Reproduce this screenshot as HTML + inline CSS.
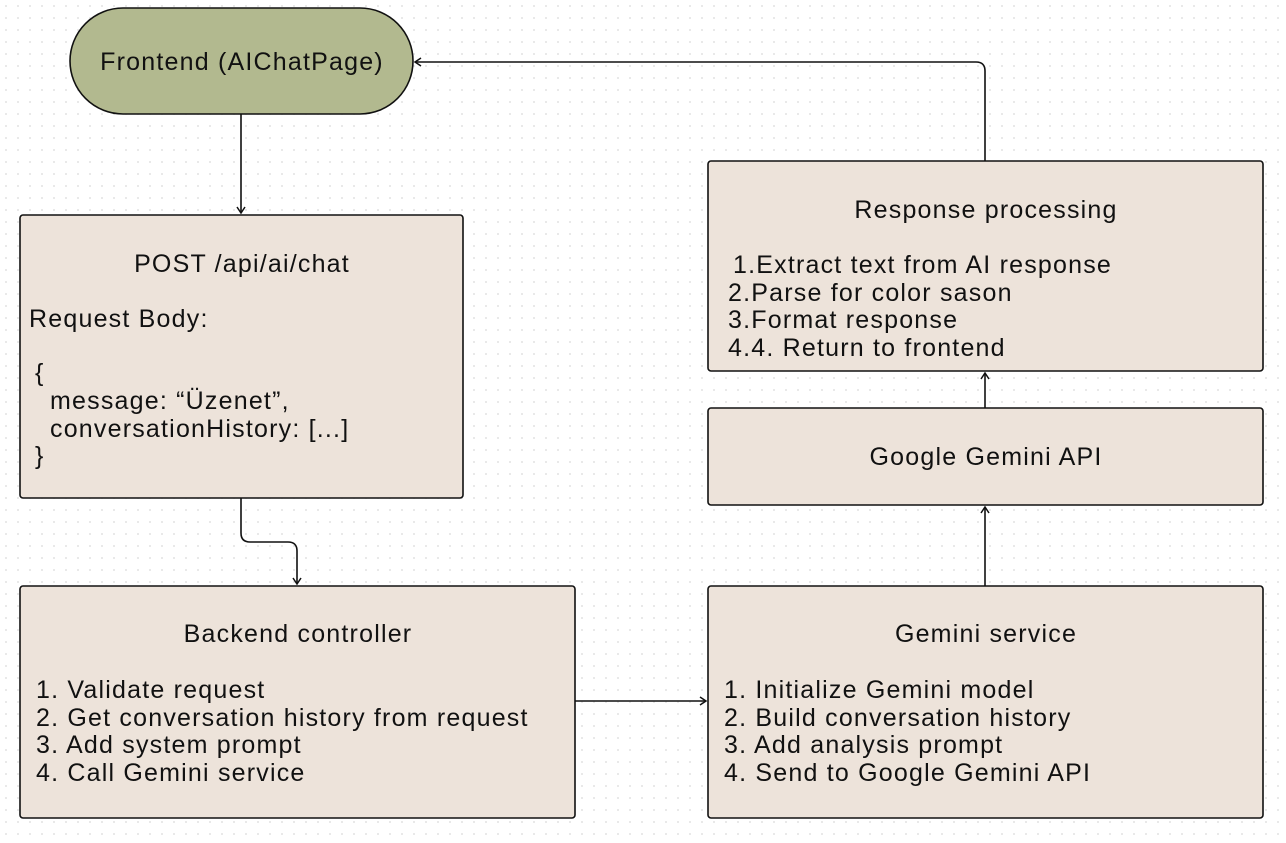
<!DOCTYPE html>
<html><head><meta charset="utf-8"><style>
body{margin:0;background:#fff}
svg text{font-family:"Liberation Sans",sans-serif;font-size:25px;letter-spacing:1.2px;fill:#111}
</style></head><body>
<svg width="1286" height="838" viewBox="0 0 1286 838" xmlns="http://www.w3.org/2000/svg">
<defs>
<pattern id="d" width="12" height="12" patternUnits="userSpaceOnUse"><circle cx="6" cy="6" r="1" fill="#e2e2e2"/></pattern>
<marker id="a" markerWidth="10" markerHeight="10" refX="8" refY="5" orient="auto" markerUnits="userSpaceOnUse"><path d="M2,1 L8,5 L2,9" fill="none" stroke="#111" stroke-width="1.5"/></marker>
</defs>
<rect width="1286" height="838" fill="url(#d)"/>
<g stroke="#111" stroke-width="1.6" fill="none">
<path d="M241,114 V213" marker-end="url(#a)"/>
<path d="M241,498 V533 Q241,542 250,542 H288 Q297,542 297,551 V584" marker-end="url(#a)"/>
<path d="M575,701 H706" marker-end="url(#a)"/>
<path d="M985,586 V507" marker-end="url(#a)"/>
<path d="M985,408 V373" marker-end="url(#a)"/>
<path d="M985,161 V71 Q985,62 976,62 H415" marker-end="url(#a)"/>
</g>
<g stroke="#111" stroke-width="1.6">
<rect x="70" y="8" width="343" height="106" rx="53" fill="#b2b98f"/>
<rect x="20" y="215" width="443" height="283" rx="3" fill="#ede3da"/>
<rect x="20" y="586" width="555" height="232" rx="3" fill="#ede3da"/>
<rect x="708" y="586" width="555" height="232" rx="3" fill="#ede3da"/>
<rect x="708" y="408" width="555" height="97" rx="3" fill="#ede3da"/>
<rect x="708" y="161" width="555" height="210" rx="3" fill="#ede3da"/>
</g>
<text x="242" y="70" text-anchor="middle">Frontend (AIChatPage)</text>
<text x="242" y="272" text-anchor="middle">POST /api/ai/chat</text>
<text x="29" y="327">Request Body:</text>
<text x="35" y="381">{</text>
<text x="50" y="409">message: “Üzenet”,</text>
<text x="50" y="437">conversationHistory: [...]</text>
<text x="35" y="464">}</text>
<text x="298" y="642" text-anchor="middle">Backend controller</text>
<text x="36" y="698">1. Validate request</text>
<text x="36" y="726">2. Get conversation history from request</text>
<text x="36" y="753">3. Add system prompt</text>
<text x="36" y="781">4. Call Gemini service</text>
<text x="986" y="642" text-anchor="middle">Gemini service</text>
<text x="724" y="698">1. Initialize Gemini model</text>
<text x="724" y="726">2. Build conversation history</text>
<text x="724" y="753">3. Add analysis prompt</text>
<text x="724" y="781">4. Send to Google Gemini API</text>
<text x="986" y="465" text-anchor="middle">Google Gemini API</text>
<text x="986" y="218" text-anchor="middle">Response processing</text>
<text x="733" y="273">1.Extract text from AI response</text>
<text x="728" y="301">2.Parse for color sason</text>
<text x="728" y="328">3.Format response</text>
<text x="728" y="356">4.4. Return to frontend</text>
</svg>
</body></html>
